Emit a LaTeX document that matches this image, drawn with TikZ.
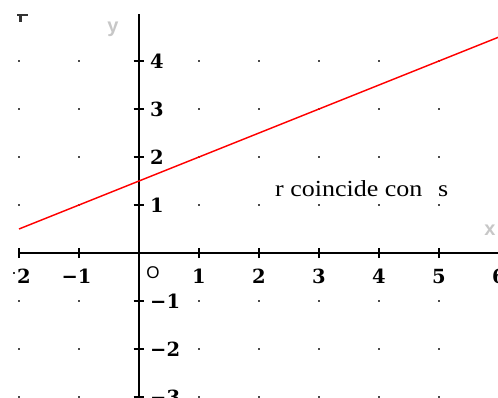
\documentclass[tikz,border=0pt]{standalone}
\usepackage{fontspec}
\setmainfont{Liberation Serif}
\newfontfamily\axsans{Liberation Sans}
\newfontfamily\numfont{DejaVu Serif}
\begin{document}
\begin{tikzpicture}[x=60pt,y=48pt,
  axisline/.style={line width=1.6pt,black},
  tickmark/.style={line width=1.3pt,black},
  griddot/.style={fill=black!70,inner sep=0pt,minimum size=2pt,shape=rectangle},
  numlbl/.style={font=\numfont\fontsize{19.5}{19.5}\selectfont\bfseries,inner sep=0pt},
  axname/.style={font=\axsans\fontsize{20}{20}\selectfont\bfseries,text=black!22,inner sep=0pt},
  redline/.style={red,line width=1.4pt}]
\useasboundingbox (-2.3167,-3.0208) rectangle (5.9833,5.2708);
% grid dots
\foreach \i in {-2,-1,1,2,3,4,5,6}{
  \foreach \j in {-3,-2,-1,1,2,3,4}{
    \node[griddot] (d\i\j) at (\i,\j) {};
  }
}
% axes
\coordinate (xa) at (-2,0);
\coordinate (xb) at (6.2,0);
\coordinate (ya) at (0,4.979);
\coordinate (yb) at (0,-3.1);
\draw[axisline] (xa) -- (xb);
\draw[axisline] (ya) -- (yb);
% ticks
\foreach \i in {-2,-1,1,2,3,4,5,6}{
  \draw[tickmark] (\i,-0.094) -- (\i,0.094);
}
\foreach \j in {-3,-2,-1,1,2,3,4}{
  \draw[tickmark] (-0.09,\j) -- (0.09,\j);
}
% x labels
\node[numlbl] (lx-2) at (-1.917,-0.49) {2};
\fill[black!80] (-2.1,-0.43) rectangle (-2.067,-0.40);
\node[numlbl] (lx-1) at (-1.04,-0.49) {−1};
\foreach \i in {1,2,3,4,5,6}{
  \node[numlbl] (lx\i) at (\i,-0.49) {\i};
}
% y labels
\foreach \j in {-3,-2,-1}{
  \node[numlbl,anchor=west] (ly\j) at (0.183,\j) {−\the\numexpr-\j\relax};
}
\foreach \j in {1,2,3,4}{
  \node[numlbl,anchor=west] (ly\j) at (0.183,\j) {\j};
}
% origin
\node[font=\axsans\fontsize{17}{17}\selectfont,inner sep=0pt] (orig) at (0.233,-0.417) {O};
% axis names
\node[axname] (yname) at (-0.433,4.667) {y};
\node[axname] (xname) at (5.85,0.479) {x};
% top-left mark
\draw[line width=2pt,black!80] (-2.033,4.958) -- (-1.85,4.958);
\draw[line width=2.6pt,black!80] (-1.975,4.958) -- (-1.975,4.8125);
% line r
\coordinate (ra) at (-2,0.5);
\coordinate (rb) at (6.1,4.55);
\draw[redline] (ra) -- (rb);
% caption
\node[anchor=base west,inner sep=0pt,font=\fontsize{23}{23}\selectfont,xscale=1.13] (cap) at (2.267,1.167) {r coincide con\hspace{0.6em}s};
\end{tikzpicture}
\end{document}
